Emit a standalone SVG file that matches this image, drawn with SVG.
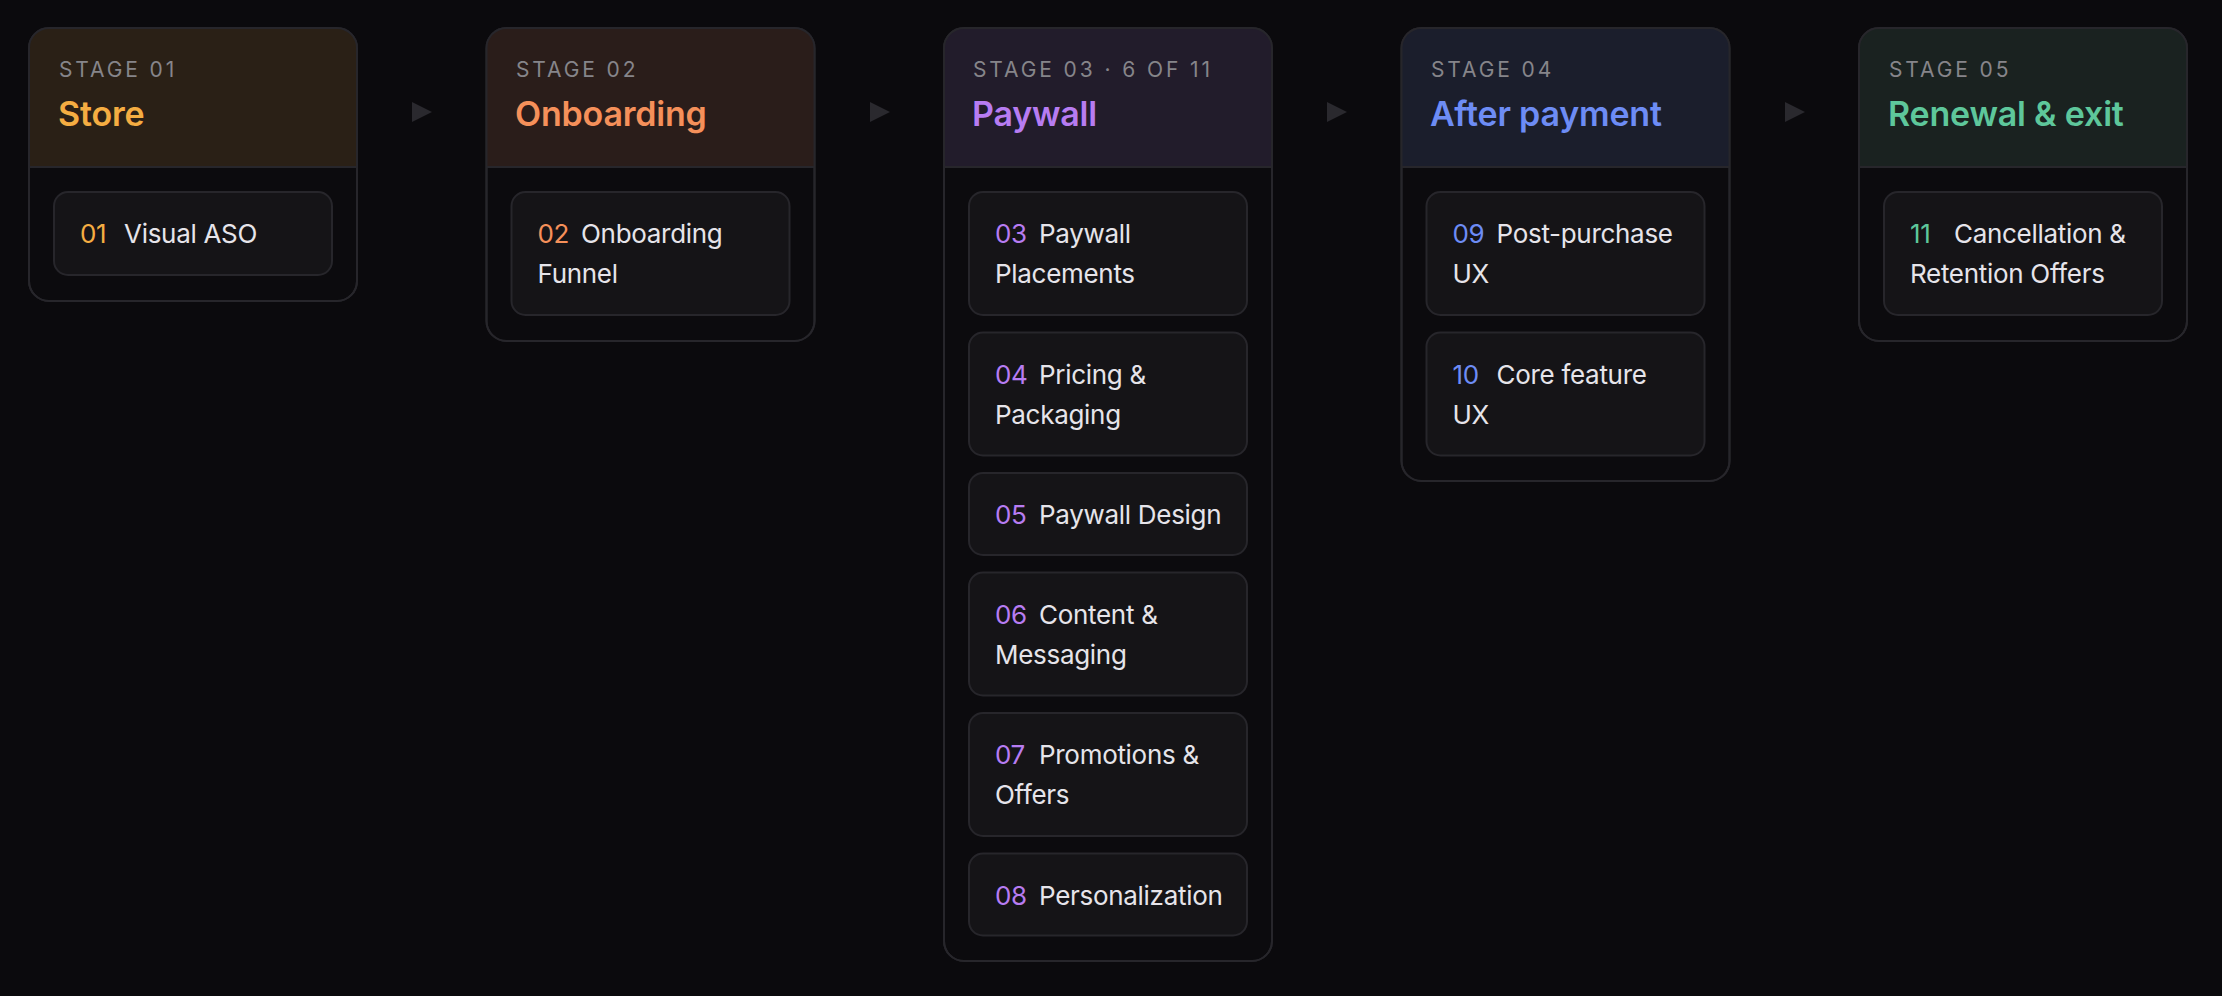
<svg xmlns="http://www.w3.org/2000/svg" width="2222" height="996" viewBox="0 0 2222 996">
<style>
.bg{fill:#0b0a0d}
.card{fill:#0c0b0e;stroke:#27262b;stroke-width:2}
.sep{stroke:#27262b;stroke-width:2}
.item{fill:#151417;stroke:#27262b;stroke-width:2}
.lbl{font-family:Inter,"Liberation Sans",sans-serif;font-size:21px;letter-spacing:2.9px;fill:#86858a}
.ttl{font-family:Inter,"Liberation Sans",sans-serif;font-size:34px;font-weight:600;letter-spacing:-0.2px}
.txt{font-family:Inter,"Liberation Sans",sans-serif;font-size:26px;letter-spacing:-0.3px;fill:#e6e4ea}
.arrow{fill:#2a292e}
.c1{fill:#f5ad42}.c2{fill:#f5905a}.c3{fill:#b77cf2}.c4{fill:#6d8cf5}.c5{fill:#5ec79b}
</style>
<defs>
<clipPath id="cp1"><rect x="29" y="28" width="328" height="273" rx="20"/></clipPath>
<clipPath id="cp2"><rect x="486.5" y="28" width="328" height="313" rx="20"/></clipPath>
<clipPath id="cp3"><rect x="944" y="28" width="328" height="933" rx="20"/></clipPath>
<clipPath id="cp4"><rect x="1401.5" y="28" width="328" height="453" rx="20"/></clipPath>
<clipPath id="cp5"><rect x="1859" y="28" width="328" height="313" rx="20"/></clipPath>
</defs>
<rect class="bg" x="0" y="0" width="2222" height="996"/>

<g id="connectors">
<polygon class="arrow" points="412,102 432,112 412,122"/>
<polygon class="arrow" points="870,102 890,112 870,122"/>
<polygon class="arrow" points="1327,102 1347,112 1327,122"/>
<polygon class="arrow" points="1785,102 1805,112 1785,122"/>
</g>

<g id="stage1">
<rect class="card" x="29" y="28" width="328" height="273" rx="20"/>
<rect x="29" y="28" width="328" height="139" fill="#2a2016" clip-path="url(#cp1)"/>
<line class="sep" x1="29" y1="167" x2="357" y2="167"/>
<rect x="29" y="28" width="328" height="273" rx="20" fill="none" stroke="#27262b" stroke-width="2"/>
<text class="lbl" x="59" y="77">STAGE 01</text>
<text class="ttl c1" x="58" y="126">Store</text>
<g id="item01">
<rect class="item" x="54" y="192" width="278" height="83" rx="14"/>
<text class="txt" y="243"><tspan class="c1" x="80">01</tspan><tspan x="124">Visual ASO</tspan></text>
</g>
</g>

<g id="stage2">
<rect class="card" x="486.5" y="28" width="328" height="313" rx="20"/>
<rect x="486.5" y="28" width="328" height="139" fill="#2a1d1a" clip-path="url(#cp2)"/>
<line class="sep" x1="486.5" y1="167" x2="814.5" y2="167"/>
<rect x="486.5" y="28" width="328" height="313" rx="20" fill="none" stroke="#27262b" stroke-width="2"/>
<text class="lbl" x="516" y="77">STAGE 02</text>
<text class="ttl c2" x="515" y="126">Onboarding</text>
<g id="item02">
<rect class="item" x="511.5" y="192" width="278" height="123" rx="14"/>
<text class="txt" y="243"><tspan class="c2" x="537.5">02</tspan><tspan x="581">Onboarding</tspan></text>
<text class="txt" x="537.5" y="283">Funnel</text>
</g>
</g>

<g id="stage3">
<rect class="card" x="944" y="28" width="328" height="933" rx="20"/>
<rect x="944" y="28" width="328" height="139" fill="#221c2b" clip-path="url(#cp3)"/>
<line class="sep" x1="944" y1="167" x2="1272" y2="167"/>
<rect x="944" y="28" width="328" height="933" rx="20" fill="none" stroke="#27262b" stroke-width="2"/>
<text class="lbl" x="973" y="77">STAGE 03 · 6 OF 11</text>
<text class="ttl c3" x="972" y="126">Paywall</text>
<g id="item03">
<rect class="item" x="969" y="192" width="278" height="123" rx="14"/>
<text class="txt" y="243"><tspan class="c3" x="995">03</tspan><tspan x="1039">Paywall</tspan></text>
<text class="txt" x="995" y="283">Placements</text>
</g>
<g id="item04">
<rect class="item" x="969" y="332.5" width="278" height="123" rx="14"/>
<text class="txt" y="383.5"><tspan class="c3" x="995">04</tspan><tspan x="1039">Pricing &amp;</tspan></text>
<text class="txt" x="995" y="423.5">Packaging</text>
</g>
<g id="item05">
<rect class="item" x="969" y="473" width="278" height="82" rx="14"/>
<text class="txt" y="524"><tspan class="c3" x="995">05</tspan><tspan x="1039">Paywall Design</tspan></text>
</g>
<g id="item06">
<rect class="item" x="969" y="572.5" width="278" height="123" rx="14"/>
<text class="txt" y="623.5"><tspan class="c3" x="995">06</tspan><tspan x="1039">Content &amp;</tspan></text>
<text class="txt" x="995" y="663.5">Messaging</text>
</g>
<g id="item07">
<rect class="item" x="969" y="713" width="278" height="123" rx="14"/>
<text class="txt" y="764"><tspan class="c3" x="995">07</tspan><tspan x="1039">Promotions &amp;</tspan></text>
<text class="txt" x="995" y="804">Offers</text>
</g>
<g id="item08">
<rect class="item" x="969" y="853.5" width="278" height="82" rx="14"/>
<text class="txt" y="904.5"><tspan class="c3" x="995">08</tspan><tspan x="1039">Personalization</tspan></text>
</g>
</g>

<g id="stage4">
<rect class="card" x="1401.5" y="28" width="328" height="453" rx="20"/>
<rect x="1401.5" y="28" width="328" height="139" fill="#1b1e2c" clip-path="url(#cp4)"/>
<line class="sep" x1="1401.5" y1="167" x2="1729.5" y2="167"/>
<rect x="1401.5" y="28" width="328" height="453" rx="20" fill="none" stroke="#27262b" stroke-width="2"/>
<text class="lbl" x="1431" y="77">STAGE 04</text>
<text class="ttl c4" x="1430" y="126">After payment</text>
<g id="item09">
<rect class="item" x="1426.5" y="192" width="278" height="123" rx="14"/>
<text class="txt" y="243"><tspan class="c4" x="1452.5">09</tspan><tspan x="1496.5">Post-purchase</tspan></text>
<text class="txt" x="1452.5" y="283">UX</text>
</g>
<g id="item10">
<rect class="item" x="1426.5" y="332.5" width="278" height="123" rx="14"/>
<text class="txt" y="383.5"><tspan class="c4" x="1452.5">10</tspan><tspan x="1496.5">Core feature</tspan></text>
<text class="txt" x="1452.5" y="423.5">UX</text>
</g>
</g>

<g id="stage5">
<rect class="card" x="1859" y="28" width="328" height="313" rx="20"/>
<rect x="1859" y="28" width="328" height="139" fill="#1a2220" clip-path="url(#cp5)"/>
<line class="sep" x1="1859" y1="167" x2="2187" y2="167"/>
<rect x="1859" y="28" width="328" height="313" rx="20" fill="none" stroke="#27262b" stroke-width="2"/>
<text class="lbl" x="1889" y="77">STAGE 05</text>
<text class="ttl c5" x="1888" y="126">Renewal &amp; exit</text>
<g id="item11">
<rect class="item" x="1884" y="192" width="278" height="123" rx="14"/>
<text class="txt" y="243"><tspan class="c5" x="1910">11</tspan><tspan x="1954">Cancellation &amp;</tspan></text>
<text class="txt" x="1910" y="283">Retention Offers</text>
</g>
</g>
</svg>
